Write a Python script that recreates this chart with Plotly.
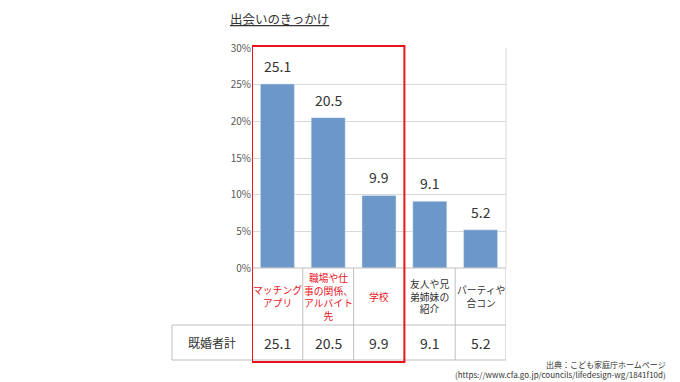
import plotly.graph_objects as go

categories = ["マッチング<br>アプリ", "職場や仕<br>事の関係、<br>アルバイト<br>先", "学校", "友人や兄<br>弟姉妹の<br>紹介", "パーティや<br>合コン"]
values = [25.1, 20.5, 9.9, 9.1, 5.2]
highlight = [True, True, True, False, False]
row_label = "既婚者計"
title_text = "出会いのきっかけ"
source_text = "出典：こども家庭庁ホームページ<br>(https://www.cfa.go.jp/councils/lifedesign-wg/1841f10d)"
y_ticks = [0, 5, 10, 15, 20, 25, 30]
y_tick_text = [f"{t}%" for t in y_ticks]

FONT = "Noto Sans CJK JP"
BAR = "#6c98c9"
GRID = "#d9d9d9"
TBL = "#bfbfbf"
RED = "#e8141c"

xs = list(range(len(categories)))
fig = go.Figure(go.Bar(x=xs, y=values, marker_color=BAR, width=0.67, hoverinfo="skip"))

ann = []
shapes = []
for x, v in zip(xs, values):
    ann.append(dict(x=x, y=v, xref="x", yref="y", text=f"{v:.1f}", showarrow=False,
                    yanchor="bottom", yshift=6, font=dict(family=FONT, size=14, color="#333333")))

PH = 220.0
PW = 254.0
row1_bot = -57 / PH
row2_bot = -92 / PH
label_left = -80 / PW

for x, c, h, v in zip(xs, categories, highlight, values):
    ann.append(dict(x=x, y=row1_bot / 2, xref="x", yref="paper", text=c, showarrow=False,
                    font=dict(family=FONT, size=9.8, color=RED if h else "#333333"),
                    xanchor="center", yanchor="middle", align="center"))
    ann.append(dict(x=x, y=(row1_bot + row2_bot) / 2, xref="x", yref="paper", text=f"{v:.1f}",
                    showarrow=False, xanchor="center", yanchor="middle",
                    font=dict(family=FONT, size=14, color="#333333")))
ann.append(dict(x=label_left / 2, y=(row1_bot + row2_bot) / 2, xref="paper", yref="paper",
                text=row_label, showarrow=False, xanchor="center", yanchor="middle",
                font=dict(family=FONT, size=12, color="#333333")))

for i in range(len(categories) + 1):
    shapes.append(dict(type="line", xref="x", yref="paper", x0=i - 0.5, x1=i - 0.5,
                       y0=0, y1=row2_bot, line=dict(color=TBL, width=1)))
shapes.append(dict(type="line", xref="paper", yref="paper", x0=label_left, x1=label_left,
                   y0=row1_bot, y1=row2_bot, line=dict(color=TBL, width=1)))
for yy in (row1_bot, row2_bot):
    shapes.append(dict(type="line", xref="paper", yref="paper", x0=label_left, x1=1,
                       y0=yy, y1=yy, line=dict(color=TBL, width=1)))
shapes.append(dict(type="line", xref="paper", yref="paper", x0=0, x1=1,
                   y0=0, y1=0, line=dict(color=TBL, width=1)))
shapes.append(dict(type="line", xref="paper", yref="paper", x0=1, x1=1,
                   y0=0, y1=1, line=dict(color=GRID, width=1)))

n_hi = sum(highlight)
shapes.append(dict(type="rect", xref="x", yref="paper", x0=-0.5, x1=n_hi - 0.5,
                   y0=-94 / PH, y1=1 + 2 / PH, line=dict(color=RED, width=2),
                   fillcolor="rgba(0,0,0,0)"))

ann.append(dict(x=-24 / PW, y=1 + 30 / PH, xref="paper", yref="paper",
                text=f"<u>{title_text}</u>", showarrow=False, xanchor="left", yanchor="middle",
                font=dict(family=FONT, size=12.5, color="#333333")))
ann.append(dict(x=(668 - 252) / PW, y=-89 / PH, xref="paper", yref="paper", text=source_text,
                showarrow=False, xanchor="right", yanchor="top", align="right",
                font=dict(family=FONT, size=8, color="#333333")))

# page body has an 8px margin: shrink figure so the plot area lands at the target pixels
fig.update_layout(
    width=672, height=374,
    margin=dict(l=244, r=174, t=40, b=114, pad=0),
    paper_bgcolor="white", plot_bgcolor="white",
    showlegend=False,
    xaxis=dict(range=[-0.5, len(categories) - 0.5], showticklabels=False, showgrid=False,
               zeroline=False, fixedrange=True),
    yaxis=dict(range=[0, 30], tickvals=y_ticks, ticktext=y_tick_text, showgrid=True,
               gridcolor=GRID, zeroline=False,
               tickfont=dict(family=FONT, size=10, color="#595959"),
               ticks="", fixedrange=True),
    shapes=shapes,
    annotations=ann,
)
fig.write_html("out.html")
